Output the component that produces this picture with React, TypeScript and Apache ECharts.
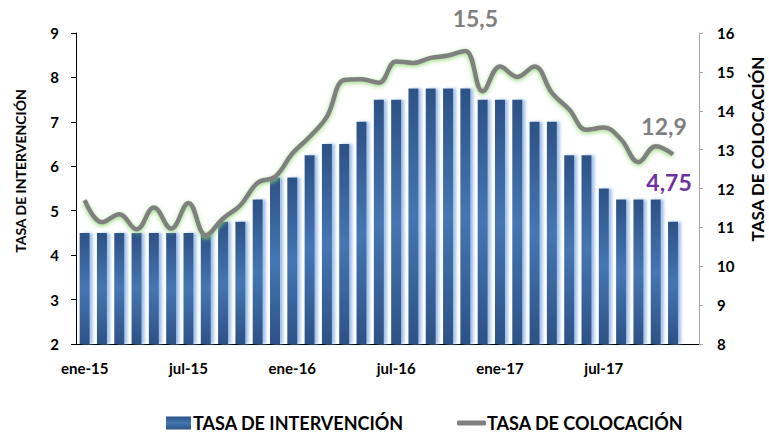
import React, { useEffect, useRef } from "react";
import * as echarts from "echarts";

const categories = [
  "ene-15", "feb-15", "mar-15", "abr-15", "may-15", "jun-15", "jul-15", "ago-15", "sep-15", "oct-15", "nov-15", "dic-15",
  "ene-16", "feb-16", "mar-16", "abr-16", "may-16", "jun-16", "jul-16", "ago-16", "sep-16", "oct-16", "nov-16", "dic-16",
  "ene-17", "feb-17", "mar-17", "abr-17", "may-17", "jun-17", "jul-17", "ago-17", "sep-17", "oct-17", "nov-17", "dic-17",
];

const tasaIntervencion = [
  4.5, 4.5, 4.5, 4.5, 4.5, 4.5, 4.5, 4.5, 4.75, 4.75, 5.25, 5.75,
  5.75, 6.25, 6.5, 6.5, 7.0, 7.5, 7.5, 7.75, 7.75, 7.75, 7.75, 7.5,
  7.5, 7.5, 7.0, 7.0, 6.25, 6.25, 5.5, 5.25, 5.25, 5.25, 4.75,
];

const tasaColocacion = [
  11.70, 11.13, 11.34, 10.95, 11.51, 10.97, 11.63, 10.80, 11.23, 11.57, 12.15, 12.30,
  12.90, 13.33, 13.85, 14.79, 14.81, 14.72, 15.27, 15.23, 15.36, 15.42, 15.54, 14.50,
  15.14, 14.87, 15.14, 14.46, 14.03, 13.51, 13.57, 13.26, 12.68, 13.09, 12.88,
];

const leftTicks = { min: 2, max: 9, interval: 1 };
const rightTicks = { min: 8, max: 16, interval: 1 };

const seriesNames = ["TASA DE INTERVENCIÓN", "TASA DE COLOCACIÓN"];

const FONT = 'Lato, Roboto, "Liberation Sans", sans-serif';

const fmt = (v: number, d: number) => v.toFixed(d).replace(".", ",");

export default function App() {
  const ref = useRef<HTMLDivElement>(null);

  useEffect(() => {
    if (!ref.current) return;
    const chart = echarts.init(ref.current, undefined, { renderer: "svg" });

    const peakIdx = tasaColocacion.indexOf(Math.max(...tasaColocacion));
    const lastLine = tasaColocacion.length - 1;
    const lastBar = tasaIntervencion.length - 1;

    const barData = tasaIntervencion.map((v, i) =>
      i === lastBar
        ? {
            value: v,
            label: {
              show: true,
              position: "top",
              offset: [-4, -23],
              formatter: (p: any) => fmt(p.value, 2),
              color: "#7030A0",
              fontSize: 23,
              fontWeight: "bold",
              fontFamily: FONT,
            },
          }
        : v
    );

    const lineData = tasaColocacion.map((v, i) =>
      i === peakIdx || i === lastLine
        ? {
            value: v,
            symbol: "circle",
            symbolSize: 1,
            label: {
              show: true,
              position: "top",
              offset: i === peakIdx ? [10, -16] : [-9, -11],
              formatter: (p: any) => fmt(p.value, 1),
              color: "#7F7F7F",
              fontSize: 23,
              fontWeight: "bold",
              fontFamily: FONT,
            },
          }
        : v
    );

    const barGradient = new echarts.graphic.LinearGradient(0, 0, 0, 1, [
      { offset: 0, color: "#2D5286" },
      { offset: 0.5, color: "#4676B2" },
      { offset: 1, color: "#2D5286" },
    ]);

    chart.setOption({
      animation: false,
      backgroundColor: "#ffffff",
      textStyle: { fontFamily: FONT },
      grid: { left: 76, right: 70, top: 33, bottom: 93, containLabel: false },
      legend: [
        {
          data: [{ name: seriesNames[0], icon: "rect" }],
          left: 166,
          top: 414,
          padding: 0,
          itemWidth: 25,
          itemHeight: 13,
          itemStyle: { shadowBlur: 0, shadowOffsetX: 0 },
          textStyle: { fontSize: 18, fontWeight: "bold", color: "#000", fontFamily: FONT, padding: [0, 0, 0, -3] },
        },
        {
          data: [{ name: seriesNames[1], icon: "roundRect" }],
          left: 457,
          top: 414,
          padding: 0,
          itemWidth: 29,
          itemHeight: 5,
          itemStyle: { color: "#808080", shadowBlur: 0 },
          lineStyle: { width: 0 },
          textStyle: { fontSize: 18, fontWeight: "bold", color: "#000", fontFamily: FONT, padding: [0, 0, 0, -4] },
        },
      ],
      xAxis: {
        type: "category",
        data: categories,
        boundaryGap: true,
        axisLine: { lineStyle: { color: "#000", width: 1 } },
        axisTick: { interval: 5, length: 5, alignWithLabel: false, lineStyle: { color: "#000" } },
        axisLabel: {
          interval: 5,
          margin: 16,
          color: "#000",
          fontSize: 15,
          fontWeight: "bold",
          fontFamily: FONT,
        },
        splitLine: { show: false },
      },
      yAxis: [
        {
          type: "value",
          position: "left",
          min: leftTicks.min,
          max: leftTicks.max,
          interval: leftTicks.interval,
          axisLine: { show: true, lineStyle: { color: "#000" } },
          axisTick: { show: true, length: 5, lineStyle: { color: "#000" } },
          axisLabel: { margin: 17, color: "#000", fontSize: 15, fontWeight: "bold", fontFamily: FONT },
          splitLine: { show: false },
        },
        {
          type: "value",
          position: "right",
          min: rightTicks.min,
          max: rightTicks.max,
          interval: rightTicks.interval,
          axisLine: { show: true, lineStyle: { color: "#A6A6A6" } },
          axisTick: { show: true, length: 4, lineStyle: { color: "#A6A6A6" } },
          axisLabel: { margin: 18, color: "#000", fontSize: 15, fontWeight: "bold", fontFamily: FONT },
          splitLine: { show: false },
        },
      ],
      graphic: [
        {
          type: "text",
          x: 20,
          y: 171,
          rotation: Math.PI / 2,
          style: {
            text: seriesNames[0],
            align: "center",
            verticalAlign: "middle",
            fontSize: 14,
            fontWeight: "bold",
            fontFamily: FONT,
            fill: "#000",
          },
        },
        {
          type: "text",
          x: 757,
          y: 149,
          rotation: Math.PI / 2,
          style: {
            text: seriesNames[1],
            align: "center",
            verticalAlign: "middle",
            fontSize: 17,
            fontWeight: "bold",
            fontFamily: FONT,
            fill: "#000",
          },
        },
      ],
      series: [
        {
          name: seriesNames[0],
          type: "bar",
          yAxisIndex: 0,
          barWidth: 10,
          data: barData,
          itemStyle: {
            color: barGradient,
            shadowColor: "rgba(150,185,230,0.9)",
            shadowOffsetX: 3,
            shadowBlur: 3,
          },
        },
        {
          name: seriesNames[1],
          type: "line",
          yAxisIndex: 1,
          data: lineData,
          smooth: 0.4,
          showSymbol: true,
          symbol: "none",
          itemStyle: { color: "#808080" },
          lineStyle: {
            color: "#808080",
            width: 4.5,
            shadowColor: "rgba(140,215,110,0.9)",
            shadowBlur: 4,
            shadowOffsetY: 1.5,
          },
          z: 3,
        },
      ],
    });

    return () => chart.dispose();
  }, []);

  return (
    <div
      ref={ref}
      style={{ position: "fixed", left: 0, top: 0, width: 769, height: 437 }}
    />
  );
}
